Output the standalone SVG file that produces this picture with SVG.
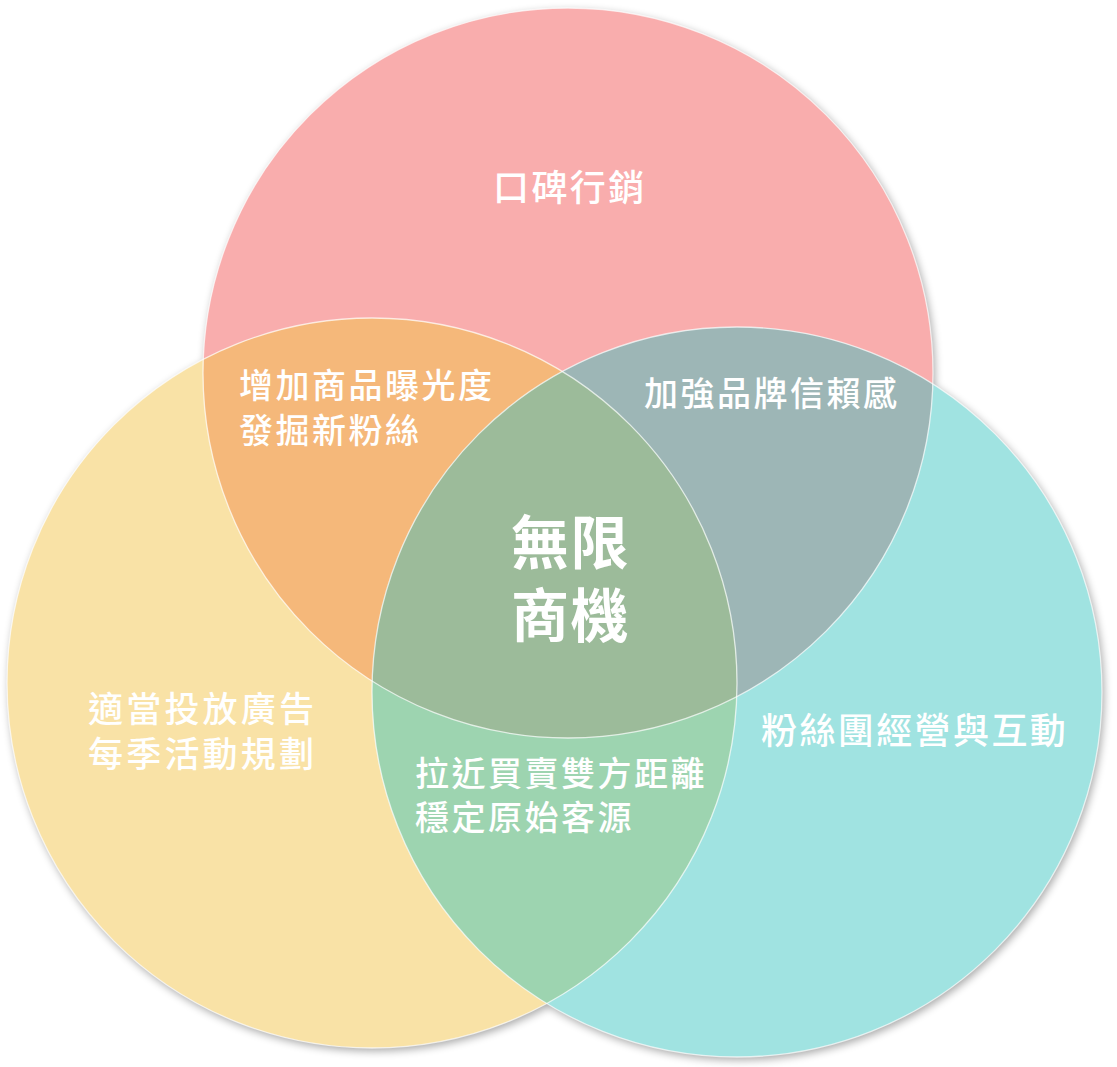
<svg xmlns="http://www.w3.org/2000/svg" width="1117" height="1067" viewBox="0 0 1117 1067">
  <style>
    .lbl { font-family: "Liberation Sans", "Noto Sans CJK TC", "Noto Sans CJK SC", sans-serif; fill: #ffffff; font-size: 34px; font-weight: 500; letter-spacing: 2.5px; }
    .big { font-size: 36px; letter-spacing: 2.4px; }
    .mid { font-size: 35px; letter-spacing: 3.2px; }
    .core { font-family: "Liberation Sans", "Noto Sans CJK TC", "Noto Sans CJK SC", sans-serif; fill: #ffffff; font-size: 58px; font-weight: bold; letter-spacing: 1.5px; }
    .edge { fill: none; stroke: #ffffff; stroke-opacity: 0.7; stroke-width: 1.3; }
  </style>
  <defs>
    <circle id="cRed" cx="568" cy="373" r="365"/>
    <circle id="cYel" cx="372" cy="683" r="365"/>
    <circle id="cCya" cx="737" cy="692" r="365"/>
    <clipPath id="clipRed"><use href="#cRed"/></clipPath>
    <clipPath id="clipYel"><use href="#cYel"/></clipPath>
    <filter id="shadow" x="-10%" y="-10%" width="120%" height="120%">
      <feGaussianBlur in="SourceAlpha" stdDeviation="4"/>
      <feOffset dx="2" dy="3" result="b"/>
      <feComponentTransfer><feFuncA type="linear" slope="0.35"/></feComponentTransfer>
    </filter>
  </defs>
  <rect width="1117" height="1067" fill="#ffffff"/>

  <g id="shadows" filter="url(#shadow)">
    <use href="#cRed"/>
    <use href="#cYel"/>
    <use href="#cCya"/>
  </g>

  <g id="circle-red">
    <use href="#cRed" fill="#F9ADAD"/>
  </g>
  <g id="circle-yellow">
    <use href="#cYel" fill="#F9E2A6"/>
  </g>
  <g id="circle-cyan">
    <use href="#cCya" fill="#A0E3E1"/>
  </g>

  <g id="overlap-red-yellow" clip-path="url(#clipRed)">
    <use href="#cYel" fill="#F5B87A"/>
  </g>
  <g id="overlap-red-cyan" clip-path="url(#clipRed)">
    <use href="#cCya" fill="#9DB6B6"/>
  </g>
  <g id="overlap-yellow-cyan" clip-path="url(#clipYel)">
    <use href="#cCya" fill="#9DD4B0"/>
  </g>
  <g id="overlap-all" clip-path="url(#clipRed)">
    <g clip-path="url(#clipYel)">
      <use href="#cCya" fill="#9CBB9A"/>
    </g>
  </g>

  <g id="edges">
    <use href="#cRed" class="edge"/>
    <use href="#cYel" class="edge"/>
    <use href="#cCya" class="edge"/>
  </g>

  <g id="node-red-label">
    <text class="lbl big" x="493" y="201">口碑行銷</text>
  </g>
  <g id="node-red-yellow-label">
    <text class="lbl" x="239" y="398">增加商品曝光度</text>
    <text class="lbl" x="239" y="443">發掘新粉絲</text>
  </g>
  <g id="node-red-cyan-label">
    <text class="lbl" x="644" y="406">加強品牌信賴感</text>
  </g>
  <g id="node-center-label">
    <text class="core" x="511" y="564">無限</text>
    <text class="core" x="511" y="637">商機</text>
  </g>
  <g id="node-yellow-label">
    <text class="lbl mid" x="88" y="722">適當投放廣告</text>
    <text class="lbl mid" x="88" y="767">每季活動規劃</text>
  </g>
  <g id="node-yellow-cyan-label">
    <text class="lbl" x="415" y="786">拉近買賣雙方距離</text>
    <text class="lbl" x="415" y="830">穩定原始客源</text>
  </g>
  <g id="node-cyan-label">
    <text class="lbl big" x="761" y="744">粉絲團經營與互動</text>
  </g>
</svg>
